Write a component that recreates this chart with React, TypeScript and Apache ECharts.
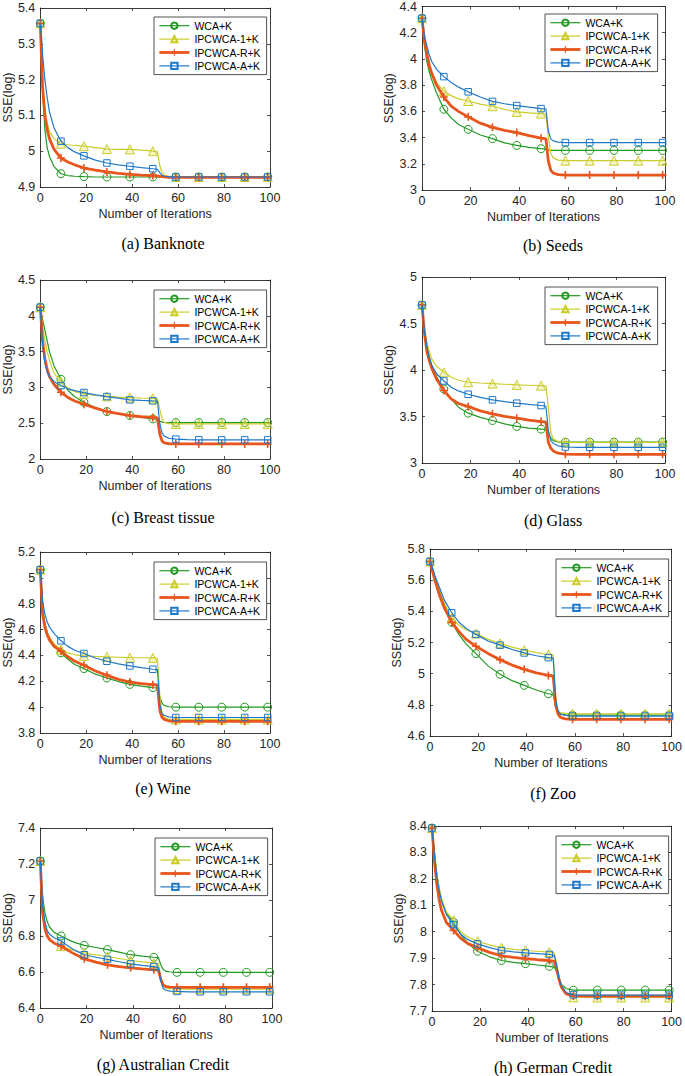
import React, { useEffect, useRef } from "react";
import * as echarts from "echarts";

const SERIES_NAMES = ["WCA+K", "IPCWCA-1+K", "IPCWCA-R+K", "IPCWCA-A+K"];
const ITER = [0, 1, 2, 3, 4, 6, 9, 12, 15, 19, 24, 29, 34, 39, 44, 49, 51, 52, 53, 54, 56, 59, 64, 69, 79, 89, 99, 100];
const MARK_ITER = [0, 9, 19, 29, 39, 49, 59, 69, 79, 89, 99];
const X_TICK_STEP = 20;
const PANEL_TITLES = ["(a) Banknote", "(b) Seeds", "(c) Breast tissue", "(d) Glass", "(e) Wine", "(f) Zoo", "(g) Australian Credit", "(h) German Credit"];
const Y_MIN = [4.9, 3, 2, 3, 3.8, 4.6, 6.4, 7.7];
const Y_MAX = [5.4, 4.4, 4.5, 5, 5.2, 5.8, 7.4, 8.4];
const Y_STEP = [0.1, 0.2, 0.5, 0.5, 0.2, 0.2, 0.2, 0.1];

// (a) Banknote
const banknoteWCA = [5.357, 5.17, 5.06, 5.01, 4.985, 4.957, 4.937, 4.932, 4.93, 4.929, 4.928, 4.928, 4.928, 4.928, 4.928, 4.928, 4.928, 4.928, 4.928, 4.928, 4.928, 4.928, 4.928, 4.928, 4.928, 4.928, 4.928, 4.928];
const banknoteIP1 = [5.357, 5.2, 5.12, 5.08, 5.055, 5.035, 5.021, 5.018, 5.016, 5.014, 5.01, 5.006, 5.005, 5.005, 5.003, 5.0, 4.998, 4.96, 4.94, 4.933, 4.93, 4.928, 4.928, 4.928, 4.928, 4.928, 4.928, 4.928];
const banknoteIPR = [5.357, 5.18, 5.1, 5.06, 5.035, 5.005, 4.981, 4.97, 4.962, 4.953, 4.947, 4.942, 4.938, 4.935, 4.933, 4.932, 4.931, 4.93, 4.929, 4.928, 4.927, 4.927, 4.927, 4.927, 4.927, 4.927, 4.927, 4.927];
const banknoteIPA = [5.357, 5.27, 5.2, 5.15, 5.11, 5.065, 5.028, 5.01, 4.998, 4.987, 4.975, 4.967, 4.962, 4.958, 4.954, 4.951, 4.949, 4.94, 4.933, 4.93, 4.929, 4.928, 4.928, 4.928, 4.928, 4.928, 4.928, 4.928];
// (b) Seeds
const seedsWCA = [4.31, 4.1, 3.98, 3.9, 3.84, 3.74, 3.616, 3.55, 3.5, 3.463, 3.42, 3.392, 3.36, 3.34, 3.325, 3.315, 3.312, 3.305, 3.302, 3.302, 3.302, 3.302, 3.302, 3.302, 3.302, 3.302, 3.302, 3.302];
const seedsIP1 = [4.31, 4.15, 4.05, 3.96, 3.9, 3.82, 3.754, 3.72, 3.695, 3.679, 3.655, 3.639, 3.615, 3.596, 3.588, 3.583, 3.58, 3.4, 3.28, 3.245, 3.228, 3.224, 3.224, 3.224, 3.224, 3.224, 3.224, 3.224];
const seedsIPR = [4.31, 4.14, 4.04, 3.95, 3.89, 3.8, 3.709, 3.64, 3.6, 3.558, 3.51, 3.478, 3.455, 3.438, 3.415, 3.395, 3.39, 3.22, 3.15, 3.13, 3.117, 3.114, 3.114, 3.114, 3.114, 3.114, 3.114, 3.114];
const seedsIPA = [4.31, 4.18, 4.1, 4.03, 3.98, 3.92, 3.865, 3.82, 3.785, 3.749, 3.71, 3.676, 3.658, 3.644, 3.632, 3.621, 3.618, 3.45, 3.39, 3.375, 3.365, 3.362, 3.362, 3.362, 3.362, 3.362, 3.362, 3.362];
// (c) Breast tissue
const breastWCA = [4.12, 3.95, 3.8, 3.65, 3.5, 3.3, 3.114, 2.96, 2.87, 2.793, 2.72, 2.663, 2.63, 2.607, 2.58, 2.56, 2.555, 2.53, 2.515, 2.51, 2.509, 2.509, 2.509, 2.509, 2.509, 2.509, 2.509, 2.509];
const breastIP1 = [4.12, 3.85, 3.65, 3.5, 3.38, 3.2, 3.08, 2.99, 2.94, 2.91, 2.89, 2.875, 2.865, 2.858, 2.852, 2.848, 2.84, 2.7, 2.56, 2.51, 2.495, 2.49, 2.49, 2.49, 2.49, 2.49, 2.49, 2.49];
const breastIPR = [4.12, 3.65, 3.4, 3.25, 3.15, 3.04, 2.933, 2.86, 2.81, 2.765, 2.71, 2.663, 2.635, 2.607, 2.59, 2.58, 2.575, 2.35, 2.25, 2.225, 2.213, 2.21, 2.21, 2.21, 2.21, 2.21, 2.21, 2.21];
const breastIPA = [4.12, 3.6, 3.35, 3.22, 3.15, 3.08, 3.026, 2.98, 2.955, 2.928, 2.895, 2.872, 2.85, 2.826, 2.818, 2.812, 2.81, 2.5, 2.36, 2.32, 2.29, 2.278, 2.27, 2.268, 2.267, 2.267, 2.267, 2.267];
// (d) Glass
const glassWCA = [4.7, 4.42, 4.25, 4.14, 4.05, 3.93, 3.796, 3.69, 3.6, 3.536, 3.49, 3.457, 3.42, 3.393, 3.375, 3.364, 3.36, 3.33, 3.27, 3.24, 3.228, 3.225, 3.225, 3.225, 3.225, 3.225, 3.225, 3.225];
const glassIP1 = [4.7, 4.45, 4.3, 4.2, 4.12, 4.04, 3.975, 3.925, 3.89, 3.868, 3.86, 3.854, 3.847, 3.84, 3.836, 3.832, 3.83, 3.6, 3.33, 3.26, 3.23, 3.222, 3.222, 3.222, 3.222, 3.222, 3.222, 3.222];
const glassIPR = [4.7, 4.4, 4.2, 4.1, 4.02, 3.9, 3.779, 3.69, 3.64, 3.607, 3.56, 3.529, 3.502, 3.482, 3.462, 3.446, 3.44, 3.22, 3.16, 3.13, 3.105, 3.095, 3.093, 3.093, 3.093, 3.093, 3.093, 3.093];
const glassIPA = [4.7, 4.42, 4.25, 4.13, 4.05, 3.96, 3.882, 3.815, 3.775, 3.739, 3.705, 3.679, 3.66, 3.643, 3.63, 3.618, 3.61, 3.35, 3.24, 3.21, 3.185, 3.172, 3.169, 3.169, 3.169, 3.169, 3.169, 3.169];
// (e) Wine
const wineWCA = [5.063, 4.76, 4.65, 4.58, 4.54, 4.48, 4.42, 4.37, 4.33, 4.298, 4.255, 4.225, 4.198, 4.176, 4.162, 4.151, 4.148, 4.08, 4.03, 4.012, 4.003, 4.0, 4.0, 4.0, 4.0, 4.0, 4.0, 4.0];
const wineIP1 = [5.063, 4.76, 4.65, 4.58, 4.54, 4.49, 4.446, 4.42, 4.405, 4.397, 4.392, 4.389, 4.386, 4.383, 4.382, 4.381, 4.378, 4.1, 3.95, 3.92, 3.908, 3.905, 3.905, 3.905, 3.905, 3.905, 3.905, 3.905];
const wineIPR = [5.063, 4.72, 4.62, 4.56, 4.52, 4.47, 4.433, 4.39, 4.355, 4.324, 4.28, 4.246, 4.215, 4.194, 4.182, 4.174, 4.17, 3.98, 3.92, 3.905, 3.893, 3.89, 3.89, 3.89, 3.89, 3.89, 3.89, 3.89];
const wineIPA = [5.063, 4.82, 4.72, 4.66, 4.62, 4.57, 4.513, 4.47, 4.44, 4.415, 4.38, 4.355, 4.335, 4.319, 4.305, 4.293, 4.29, 4.02, 3.95, 3.935, 3.925, 3.92, 3.92, 3.92, 3.92, 3.92, 3.92, 3.92];
// (f) Zoo
const zooWCA = [5.72, 5.67, 5.62, 5.57, 5.52, 5.44, 5.329, 5.25, 5.19, 5.129, 5.05, 4.996, 4.955, 4.925, 4.895, 4.871, 4.865, 4.79, 4.75, 4.74, 4.736, 4.734, 4.734, 4.734, 4.734, 4.734, 4.734, 4.734];
const zooIP1 = [5.72, 5.67, 5.62, 5.57, 5.53, 5.45, 5.355, 5.31, 5.28, 5.258, 5.22, 5.194, 5.17, 5.151, 5.135, 5.123, 5.12, 4.85, 4.76, 4.75, 4.745, 4.742, 4.742, 4.742, 4.742, 4.742, 4.742, 4.742];
const zooIPR = [5.72, 5.66, 5.6, 5.55, 5.5, 5.42, 5.329, 5.27, 5.22, 5.176, 5.13, 5.09, 5.055, 5.028, 5.005, 4.989, 4.985, 4.8, 4.74, 4.72, 4.71, 4.707, 4.707, 4.707, 4.707, 4.707, 4.707, 4.707];
const zooIPA = [5.72, 5.68, 5.63, 5.59, 5.55, 5.47, 5.391, 5.33, 5.29, 5.252, 5.21, 5.183, 5.155, 5.133, 5.115, 5.103, 5.1, 4.83, 4.76, 4.74, 4.732, 4.728, 4.728, 4.728, 4.728, 4.728, 4.728, 4.728];
// (g) Australian Credit
const ausWCA = [7.217, 7.02, 6.93, 6.88, 6.85, 6.82, 6.8, 6.78, 6.763, 6.748, 6.736, 6.724, 6.71, 6.696, 6.688, 6.682, 6.68, 6.64, 6.615, 6.605, 6.6, 6.598, 6.598, 6.598, 6.598, 6.598, 6.598, 6.598];
const ausIP1 = [7.217, 6.95, 6.86, 6.81, 6.78, 6.76, 6.744, 6.73, 6.718, 6.705, 6.695, 6.686, 6.675, 6.664, 6.656, 6.649, 6.645, 6.57, 6.525, 6.512, 6.507, 6.505, 6.505, 6.505, 6.505, 6.505, 6.505, 6.505];
const ausIPR = [7.217, 6.93, 6.84, 6.8, 6.78, 6.76, 6.744, 6.72, 6.698, 6.673, 6.655, 6.64, 6.63, 6.623, 6.617, 6.612, 6.61, 6.56, 6.53, 6.52, 6.516, 6.515, 6.515, 6.515, 6.515, 6.515, 6.515, 6.515];
const ausIPA = [7.217, 6.97, 6.88, 6.83, 6.81, 6.79, 6.772, 6.745, 6.72, 6.696, 6.682, 6.67, 6.657, 6.645, 6.637, 6.63, 6.625, 6.55, 6.51, 6.5, 6.494, 6.492, 6.49, 6.49, 6.49, 6.49, 6.49, 6.49];
// (h) German Credit
const gerWCA = [8.392, 8.3, 8.22, 8.16, 8.12, 8.07, 8.036, 7.99, 7.955, 7.926, 7.905, 7.891, 7.884, 7.879, 7.874, 7.869, 7.866, 7.85, 7.82, 7.8, 7.785, 7.779, 7.779, 7.779, 7.779, 7.779, 7.779, 7.779];
const gerIP1 = [8.392, 8.3, 8.22, 8.165, 8.125, 8.075, 8.043, 8.0, 7.98, 7.964, 7.95, 7.939, 7.933, 7.929, 7.926, 7.923, 7.92, 7.88, 7.83, 7.8, 7.765, 7.752, 7.751, 7.751, 7.751, 7.751, 7.751, 7.751];
const gerIPR = [8.392, 8.27, 8.18, 8.12, 8.08, 8.035, 8.005, 7.975, 7.955, 7.939, 7.922, 7.909, 7.903, 7.898, 7.894, 7.891, 7.888, 7.86, 7.82, 7.79, 7.765, 7.757, 7.756, 7.756, 7.756, 7.756, 7.756, 7.756];
const gerIPA = [8.392, 8.29, 8.21, 8.155, 8.115, 8.065, 8.027, 7.99, 7.97, 7.954, 7.94, 7.929, 7.924, 7.92, 7.917, 7.914, 7.911, 7.875, 7.825, 7.795, 7.77, 7.761, 7.76, 7.76, 7.76, 7.76, 7.76, 7.76];

const PANEL_DATA = [
  [banknoteWCA, banknoteIP1, banknoteIPR, banknoteIPA],
  [seedsWCA, seedsIP1, seedsIPR, seedsIPA],
  [breastWCA, breastIP1, breastIPR, breastIPA],
  [glassWCA, glassIP1, glassIPR, glassIPA],
  [wineWCA, wineIP1, wineIPR, wineIPA],
  [zooWCA, zooIP1, zooIPR, zooIPA],
  [ausWCA, ausIP1, ausIPR, ausIPA],
  [gerWCA, gerIP1, gerIPR, gerIPA],
];

// layout (pixels): plot area boxes, legend anchors, captions
const GRIDS = [
  { left: 35, top: 8, width: 235, height: 179 },
  { left: 422, top: 5, width: 243, height: 185 },
  { left: 35, top: 280, width: 235, height: 179 },
  { left: 422, top: 277, width: 243, height: 186 },
  { left: 35, top: 552, width: 235, height: 181 },
  { left: 430, top: 549, width: 245, height: 187 },
  { left: 35, top: 828, width: 237, height: 180 },
  { left: 432, top: 826, width: 243, height: 185 },
];
const LEGEND_POS = [
  [154, 17], [545, 14], [154, 290], [545, 287], [154, 562], [556, 559], [155, 838], [556, 836],
];
const CAPTION_POS = [
  [163, 243], [553, 245], [163, 517], [553, 520], [163, 788], [553, 793], [163, 1064], [553, 1067],
];

const AXIS_COLOR = "#262626";
const SANS = "Liberation Sans, Arial, Helvetica, sans-serif";
const STYLES = [
  { color: "#229922", symbol: "circle", size: 8, width: 1.2, fill: "rgba(255,255,255,0)" },
  { color: "#cccc2a", symbol: "triangle", size: 9, width: 1.2, fill: "rgba(220,220,90,0.3)" },
  { color: "#e8561e", symbol: "path://M4,0H6V4H10V6H6V10H4V6H0V4H4Z", size: 8, width: 2.8, fill: "#e8561e" },
  { color: "#1f78c8", symbol: "rect", size: 6.5, width: 1.2, fill: "rgba(255,255,255,0)" },
];

export default function App() {
  const ref = useRef<HTMLDivElement>(null);
  useEffect(() => {
    document.body.style.margin = "0";
    if (!ref.current) return;
    const chart = echarts.init(ref.current, undefined, { renderer: "svg" });

    const xAxes: any[] = [];
    const yAxes: any[] = [];
    const series: any[] = [];
    const legends: any[] = [];
    const graphics: any[] = [];

    GRIDS.forEach((g, p) => {
      const baseX = {
        gridIndex: p, type: "value", min: 0, max: 100, interval: X_TICK_STEP,
        axisLine: { show: true, onZero: false, lineStyle: { color: AXIS_COLOR, width: 0.9 } },
        axisTick: { show: true, inside: true, length: 3, lineStyle: { color: AXIS_COLOR, width: 0.8 } },
        splitLine: { show: false },
      };
      const baseY = {
        gridIndex: p, type: "value", min: Y_MIN[p], max: Y_MAX[p], interval: Y_STEP[p],
        axisLine: { show: true, onZero: false, lineStyle: { color: AXIS_COLOR, width: 0.9 } },
        axisTick: { show: true, inside: true, length: 3, lineStyle: { color: AXIS_COLOR, width: 0.8 } },
        splitLine: { show: false },
      };
      xAxes[p] = {
        ...baseX, position: "bottom",
        axisLabel: { color: AXIS_COLOR, fontSize: 12.5, fontFamily: SANS, margin: 4 },
        name: "Number of Iterations", nameLocation: "middle", nameGap: 20,
        nameTextStyle: { color: AXIS_COLOR, fontSize: 12.5, fontFamily: SANS },
      };
      xAxes[p + 8] = { ...baseX, position: "top", axisLabel: { show: false } };
      yAxes[p] = {
        ...baseY, position: "left",
        axisLabel: { color: AXIS_COLOR, fontSize: 12.5, fontFamily: SANS, margin: 5 },
        name: "SSE(log)", nameLocation: "middle", nameGap: 23,
        nameTextStyle: { color: AXIS_COLOR, fontSize: 12.5, fontFamily: SANS },
      };
      yAxes[p + 8] = { ...baseY, position: "right", axisLabel: { show: false } };

      PANEL_DATA[p].forEach((vals, s) => {
        const st = STYLES[s];
        series.push({
          type: "line",
          name: SERIES_NAMES[s],
          xAxisIndex: p,
          yAxisIndex: p,
          data: ITER.map((x, i) =>
            MARK_ITER.includes(x) ? [x, vals[i]] : { value: [x, vals[i]], symbol: "none" }
          ),
          symbol: st.symbol,
          symbolSize: st.size,
          showAllSymbol: true,
          lineStyle: { color: st.color, width: st.width },
          itemStyle: { color: st.fill, borderColor: st.color, borderWidth: s === 2 ? 0 : 1 },
          emphasis: { disabled: true },
          silent: true,
          z: 2 + s,
        });
      });

      legends.push({
        left: LEGEND_POS[p][0],
        top: LEGEND_POS[p][1],
        orient: "vertical",
        data: SERIES_NAMES.map((n, s) => ({
          name: n,
          lineStyle: { color: STYLES[s].color, width: STYLES[s].width },
        })),
        backgroundColor: "#ffffff",
        borderColor: AXIS_COLOR,
        borderWidth: 0.8,
        borderRadius: 0,
        padding: [2, 6, 2, 4],
        itemGap: 0,
        itemWidth: 30,
        itemHeight: 8,
        selectedMode: false,
        textStyle: { color: "#000", fontSize: 10.5, fontFamily: SANS, lineHeight: 13.4, padding: [0, 0, 0, 0] },
      });

      graphics.push({
        type: "text",
        x: CAPTION_POS[p][0],
        y: CAPTION_POS[p][1],
        style: {
          text: PANEL_TITLES[p],
          fill: "#000",
          font: '16px "Liberation Serif", "Times New Roman", serif',
          textAlign: "center",
          textVerticalAlign: "middle",
        },
      });
    });

    chart.setOption({
      animation: false,
      backgroundColor: "#ffffff",
      grid: GRIDS.map((g) => ({ ...g, show: false, containLabel: false })),
      xAxis: xAxes,
      yAxis: yAxes,
      legend: legends,
      series,
      graphic: graphics,
    });
    return () => chart.dispose();
  }, []);
  return <div ref={ref} style={{ width: 685, height: 1076 }} />;
}
